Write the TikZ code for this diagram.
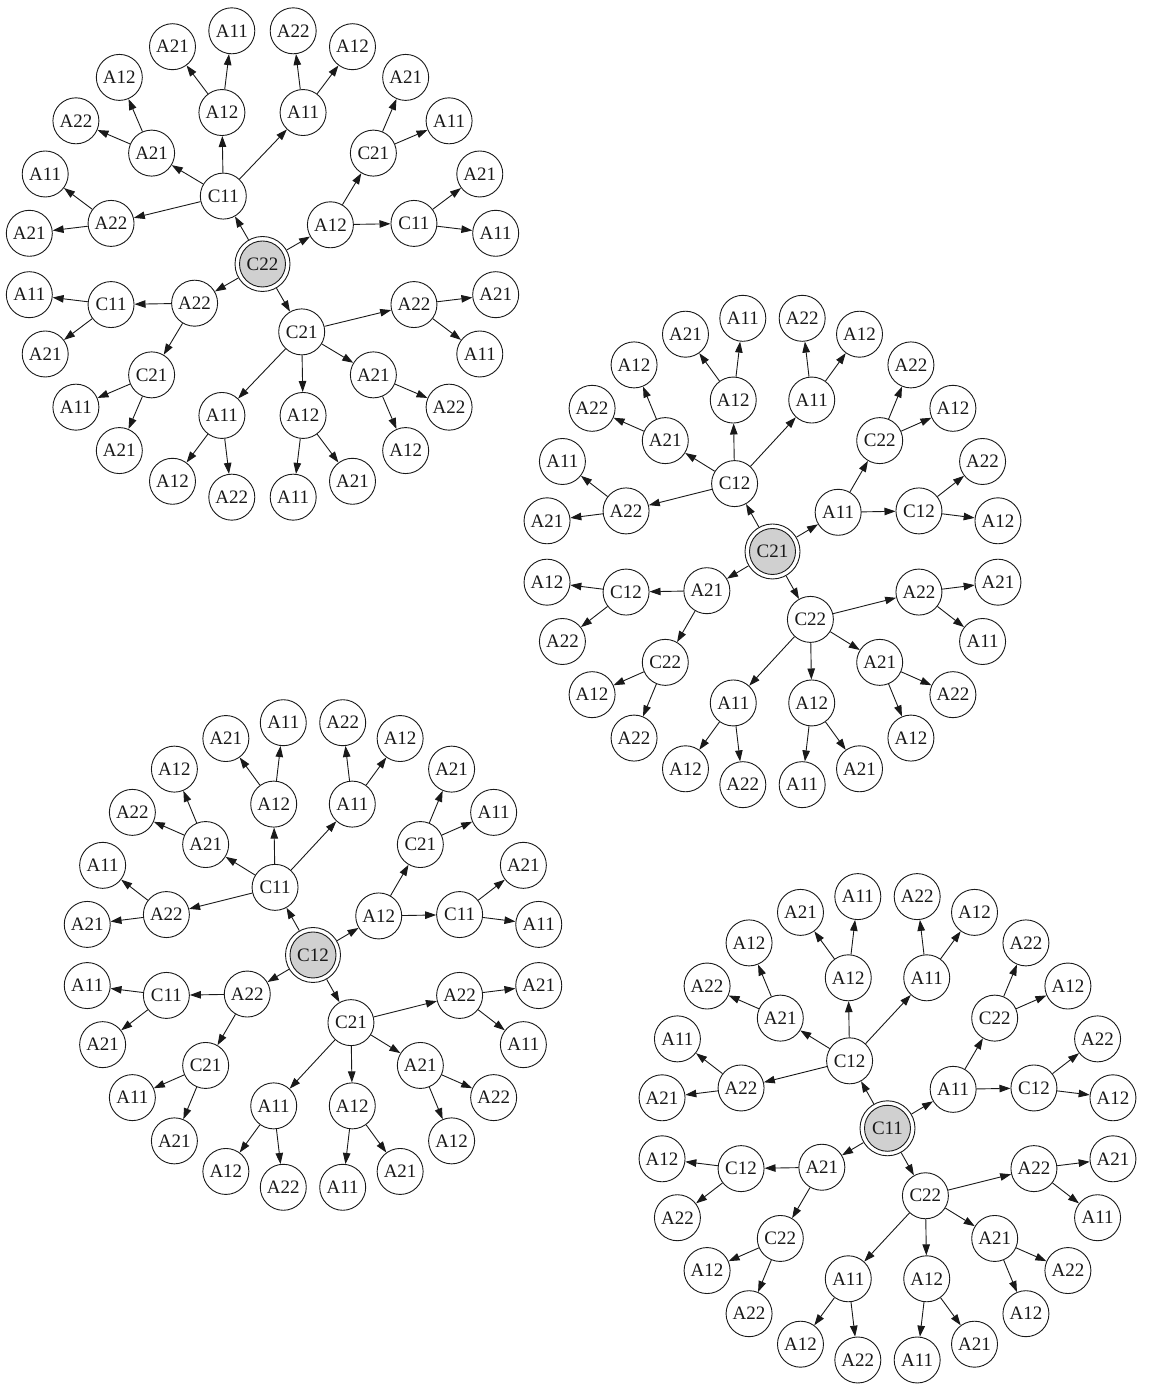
\documentclass[tikz,border=0pt]{standalone}
\usepackage{fontspec}
\setmainfont{Liberation Serif}
\usetikzlibrary{arrows.meta}
\definecolor{rootgray}{RGB}{208,208,208}
\definecolor{inkc}{RGB}{25,25,25}
\tikzset{
  nd/.style={circle, draw=inkc, line width=0.9pt, minimum size=46pt, inner sep=0pt,
    text=inkc, font=\fontsize{19}{20}\selectfont},
  rootnd/.style={circle, draw=inkc, line width=0.9pt, minimum size=55pt, inner sep=0pt,
    text=inkc, font=\fontsize{19}{20}\selectfont,
    path picture={\draw[draw=inkc, line width=0.9pt, fill=rootgray]
      (path picture bounding box.center) circle (23pt);}},
  edge/.style={draw=inkc, line width=0.9pt, -{Triangle[length=11pt,width=7.5pt]}},
}
% #1 prefix, #2 cx, #3 cy, #4 rank x, #5 rank y, #6 root label, #7 digit d, #8 digit e
\newcommand\mytree[8]{%
\begin{scope}[shift={(#2,#3)}, x=#4pt, y=#5pt]
\node[rootnd] (#1r) at (0,0) {#6};
% level 1
\node[nd] (#1a) at (120:1) {C1#7};
\node[nd] (#1b) at (30:1) {A1#8};
\node[nd] (#1c) at (210:1) {A2#8};
\node[nd] (#1d) at (300:1) {C2#7};
% level 2
\node[nd] (#1a1) at (165:2) {A22};
\node[nd] (#1a2) at (135:2) {A21};
\node[nd] (#1a3) at (105:2) {A12};
\node[nd] (#1a4) at (75:2) {A11};
\node[nd] (#1b1) at (45:2) {C2#7};
\node[nd] (#1b2) at (15:2) {C1#7};
\node[nd] (#1c1) at (195:2) {C1#7};
\node[nd] (#1c2) at (225:2) {C2#7};
\node[nd] (#1d1) at (255:2) {A11};
\node[nd] (#1d2) at (285:2) {A12};
\node[nd] (#1d3) at (315:2) {A21};
\node[nd] (#1d4) at (345:2) {A22};
% level 3
\node[nd] (#1a1p) at (172.5:3) {A21};
\node[nd] (#1a1m) at (157.5:3) {A11};
\node[nd] (#1a2p) at (142.5:3) {A22};
\node[nd] (#1a2m) at (127.5:3) {A12};
\node[nd] (#1a3p) at (112.5:3) {A21};
\node[nd] (#1a3m) at (97.5:3) {A11};
\node[nd] (#1a4p) at (82.5:3) {A22};
\node[nd] (#1a4m) at (67.5:3) {A12};
\node[nd] (#1b1p) at (52.5:3) {A2#7};
\node[nd] (#1b1m) at (37.5:3) {A1#7};
\node[nd] (#1b2p) at (22.5:3) {A2#7};
\node[nd] (#1b2m) at (7.5:3) {A1#7};
\node[nd] (#1c1m) at (187.5:3) {A1#7};
\node[nd] (#1c1p) at (202.5:3) {A2#7};
\node[nd] (#1c2m) at (217.5:3) {A1#7};
\node[nd] (#1c2p) at (232.5:3) {A2#7};
\node[nd] (#1d1m) at (247.5:3) {A12};
\node[nd] (#1d1p) at (262.5:3) {A22};
\node[nd] (#1d2m) at (277.5:3) {A11};
\node[nd] (#1d2p) at (292.5:3) {A21};
\node[nd] (#1d3m) at (307.5:3) {A12};
\node[nd] (#1d3p) at (322.5:3) {A22};
\node[nd] (#1d4m) at (337.5:3) {A11};
\node[nd] (#1d4p) at (352.5:3) {A21};
% edges
\foreach \pa/\ch in {r/a,r/b,r/c,r/d,
  a/a1,a/a2,a/a3,a/a4,b/b1,b/b2,c/c1,c/c2,d/d1,d/d2,d/d3,d/d4,
  a1/a1p,a1/a1m,a2/a2p,a2/a2m,a3/a3p,a3/a3m,a4/a4p,a4/a4m,
  b1/b1p,b1/b1m,b2/b2p,b2/b2m,c1/c1p,c1/c1m,c2/c2p,c2/c2m,
  d1/d1p,d1/d1m,d2/d2p,d2/d2m,d3/d3p,d3/d3m,d4/d4p,d4/d4m}
  {\draw[edge] (#1\pa) -- (#1\ch);}
\end{scope}}
\begin{document}
\begin{tikzpicture}[x=1pt,y=1pt]
\useasboundingbox (0,0) rectangle (1158,1385);
\mytree{t1}{262.5}{1121}{78.4}{78.4}{C22}{1}{2}
\mytree{t2}{772.5}{833.5}{75.8}{78.4}{C21}{2}{1}
\mytree{t3}{313}{430}{75.9}{78.1}{C12}{1}{2}
\mytree{t4}{887.5}{256.7}{75.8}{77.9}{C11}{2}{1}
\end{tikzpicture}
\end{document}
